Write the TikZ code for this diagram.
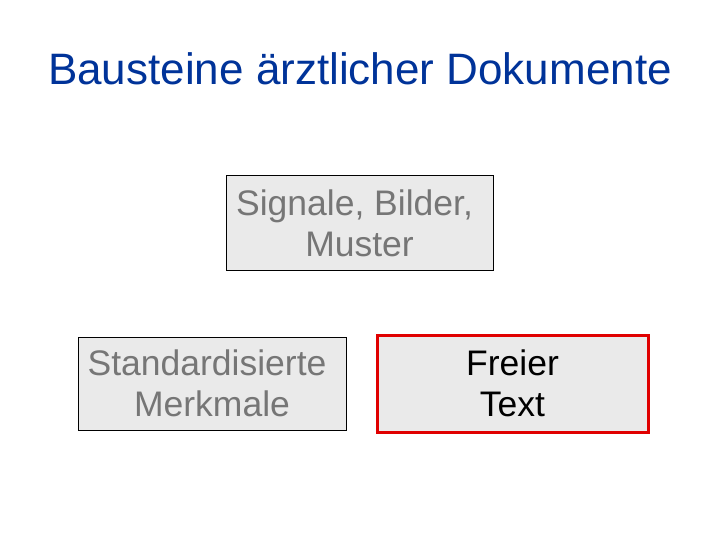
\documentclass[tikz,border=0pt]{standalone}
\usepackage{fontspec}
\setmainfont{Liberation Sans}
\definecolor{titleblue}{RGB}{0,51,153}
\definecolor{boxfill}{RGB}{234,234,234}
\definecolor{txtgray}{RGB}{118,118,118}
\definecolor{boxred}{RGB}{224,0,0}
\begin{document}
\begin{tikzpicture}[x=1pt,y=-1pt,
  box/.style={draw=black, line width=1pt, fill=boxfill, align=center, inner sep=0pt,
    font=\fontsize{35.5}{41}\selectfont},
  redbox/.style={box, draw=boxred, line width=3pt, text=black}]
\useasboundingbox (0,0) rectangle (720,540);
\fill[white] (0,0) rectangle (720,540);
\node[text=titleblue, font=\fontsize{44}{52}\selectfont, anchor=base] (title) at (360,85) {Bausteine ärztlicher Dokumente};
\node[box, text=txtgray, minimum width=267pt, minimum height=94pt] (sig) at (359.5,223) {Signale, Bilder,\hspace*{0.28em}\\Muster};
\node[box, text=txtgray, minimum width=268pt, minimum height=93pt] (std) at (212,383.5) {Standardisierte\hspace*{0.28em}\\Merkmale};
\node[redbox, minimum width=271pt, minimum height=97pt] (frei) at (512.5,383.5) {Freier\\Text};
\end{tikzpicture}
\end{document}
